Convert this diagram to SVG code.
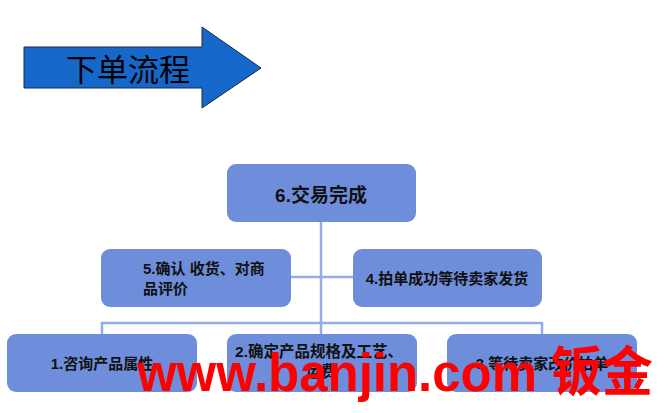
<svg xmlns="http://www.w3.org/2000/svg" width="668" height="413" viewBox="0 0 668 413">
<style>
.box{fill:#6e8edb;}
.t{font-family:"Liberation Sans","Noto Sans CJK SC",sans-serif;font-weight:bold;fill:#111;}
.ln{stroke:#94abe3;stroke-width:2.5;fill:none;}
</style>
<rect width="668" height="413" fill="#fff"/>
<g id="title">
<polygon points="24,47 202,47 202,27 261,68 202,108 202,88 24,88" fill="#1567c9" stroke="#1b2a4a" stroke-width="1"/>
<text x="128" y="81" text-anchor="middle" font-family="'Liberation Serif','Noto Sans CJK SC',serif" font-size="31" fill="#000">下单流程</text>
</g>
<g id="connectors">
<path class="ln" d="M321,221 V323 M291,277 H353 M102,335 V323 H542 V335 M321,323 V335"/>
</g>
<g id="n6">
<rect class="box" x="227" y="164" width="189" height="58" rx="9"/>
<text class="t" x="321" y="202" text-anchor="middle" font-size="19">6.交易完成</text>
</g>
<g id="n5">
<rect class="box" x="101" y="249" width="190" height="58" rx="9"/>
<text class="t" x="143" y="274" font-size="15">5.确认 收货、对商</text>
<text class="t" x="143" y="294" font-size="15">品评价</text>
</g>
<g id="n4">
<rect class="box" x="353" y="249" width="189" height="58" rx="9"/>
<text class="t" x="447" y="284" text-anchor="middle" font-size="15">4.拍单成功等待卖家发货</text>
</g>
<g id="n1">
<rect class="box" x="7" y="334" width="190" height="58" rx="9"/>
<text class="t" x="102" y="369" text-anchor="middle" font-size="15">1.咨询产品属性</text>
</g>
<g id="n2">
<rect class="box" x="227" y="334" width="190" height="58" rx="9"/>
<text class="t" x="319" y="357" text-anchor="middle" font-size="15.5">2.确定产品规格及工艺、</text>
<text class="t" x="321" y="377" text-anchor="middle" font-size="15.5">运费</text>
</g>
<g id="n3">
<rect class="box" x="447" y="334" width="190" height="58" rx="9"/>
<text class="t" x="542" y="369" text-anchor="middle" font-size="15">3.等待卖家改价拍单</text>
</g>
<text x="137" y="391" font-family="'Liberation Sans','Noto Sans CJK SC',sans-serif" font-weight="bold" font-size="53" fill="#ff0000" textLength="516" lengthAdjust="spacingAndGlyphs">www.banjin.com 钣金</text>
</svg>
